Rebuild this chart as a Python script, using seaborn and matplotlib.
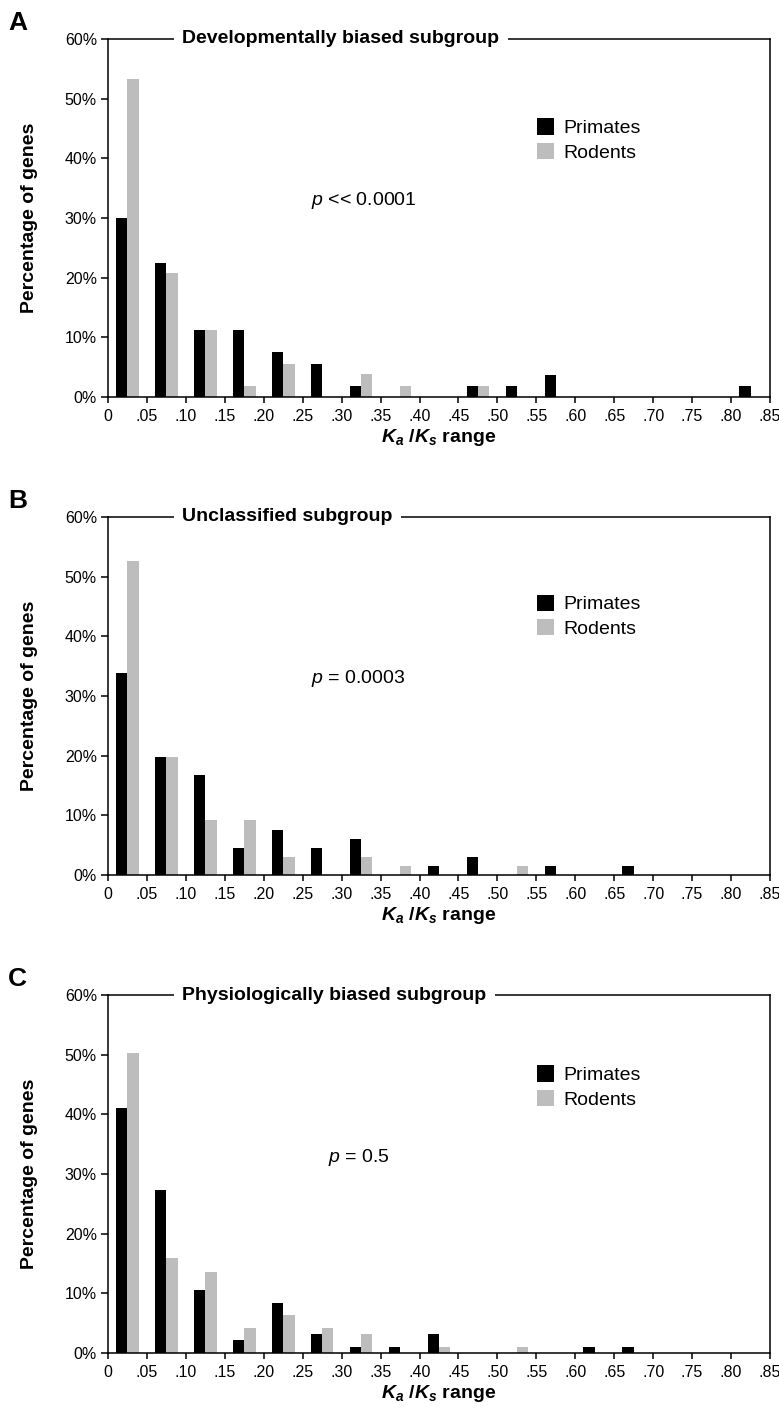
"""Ka/Ks distribution histograms for three gene subgroups (primates vs rodents)."""

import matplotlib
matplotlib.use("Agg")
import matplotlib.pyplot as plt
import matplotlib.ticker as mticker
from matplotlib.patches import Patch
import seaborn as sns
import pandas as pd

# Ka/Ks bins (0-.05, .05-.10, ... .80-.85)
bin_edges = ["0", ".05", ".10", ".15", ".20", ".25", ".30", ".35", ".40",
             ".45", ".50", ".55", ".60", ".65", ".70", ".75", ".80", ".85"]
bins = [f"b{i}" for i in range(17)]

panel_letters = ["A", "B", "C"]
subgroups = ["Developmentally biased subgroup",
             "Unclassified subgroup",
             "Physiologically biased subgroup"]
p_texts = ["<< 0.0001", "= 0.0003", "= 0.5"]

# percentage of genes per bin
dev_primates = [30.0, 22.4, 11.2, 11.2, 7.5, 5.6, 1.9, 0, 0, 1.9, 1.9, 3.7, 0, 0, 0, 0, 1.9]
dev_rodents = [53.3, 20.8, 11.2, 1.9, 5.6, 0, 3.8, 1.9, 0, 1.9, 0, 0, 0, 0, 0, 0, 0]
unc_primates = [33.8, 19.7, 16.8, 4.6, 7.6, 4.6, 6.1, 0, 1.5, 3.1, 0, 1.5, 0, 1.5, 0, 0, 0]
unc_rodents = [52.7, 19.7, 9.2, 9.2, 3.1, 0, 3.1, 1.5, 0, 0, 1.5, 0, 0, 0, 0, 0, 0]
phy_primates = [41.1, 27.3, 10.5, 2.1, 8.4, 3.2, 1.0, 1.0, 3.2, 0, 0, 0, 1.0, 1.0, 0, 0, 0]
phy_rodents = [50.3, 16.0, 13.6, 4.2, 6.3, 4.2, 3.2, 0, 1.0, 0, 1.0, 0, 0, 0, 0, 0, 0]

series = [(dev_primates, dev_rodents),
          (unc_primates, unc_rodents),
          (phy_primates, phy_rodents)]

colors = {"Primates": "#000000", "Rodents": "#bdbdbd"}

sns.set_style("ticks")
plt.rcParams.update({
    "font.family": ["Liberation Sans", "DejaVu Sans"],
    "mathtext.fontset": "custom",
    "mathtext.rm": "Liberation Sans",
    "mathtext.it": "Liberation Sans:italic",
    "mathtext.bf": "Liberation Sans:bold",
    "mathtext.bfit": "Liberation Sans:bold:italic",
    "text.color": "black",
    "axes.labelcolor": "black",
    "axes.edgecolor": "black",
    "axes.linewidth": 1.1,
    "xtick.major.width": 1.1,
    "ytick.major.width": 1.1,
    "xtick.major.size": 4.5,
    "ytick.major.size": 5,
    "xtick.color": "black",
    "ytick.color": "black",
})

fig = plt.figure(figsize=(7.79, 14.14), dpi=100)
ax_left, ax_w, ax_h = 108 / 779, 662 / 779, 358 / 1414
bottoms = [1 - 397 / 1414, 1 - 875 / 1414, 1 - 1353 / 1414]
p_ypos = [0.549, 0.550, 0.547]
p_xpos = [0.307, 0.307, 0.333]
leg_ypos = [0.80, 0.805, 0.825]

for k in range(3):
    prim, rod = series[k]
    df = pd.DataFrame({
        "bin": bins * 2,
        "pct": prim + rod,
        "group": ["Primates"] * 17 + ["Rodents"] * 17,
    })
    ax = fig.add_axes([ax_left, bottoms[k], ax_w, ax_h])
    sns.barplot(data=df, x="bin", y="pct", hue="group", order=bins,
                hue_order=["Primates", "Rodents"], palette=colors,
                width=0.58, saturation=1, linewidth=0, legend=False, ax=ax)

    ax.set_xlim(-0.5, 16.5)
    ax.set_ylim(0, 60)
    ax.set_xticks([i - 0.5 for i in range(18)])
    ax.set_xticklabels(bin_edges)
    ax.set_yticks(range(0, 61, 10))
    ax.yaxis.set_major_formatter(mticker.FuncFormatter(lambda v, _: f"{v:.0f}%"))
    ax.tick_params(axis="x", labelsize=11.5, pad=4)
    ax.tick_params(axis="y", labelsize=11.5, pad=3)
    for s in ax.spines.values():
        s.set_visible(True)
        s.set_linewidth(1.1)

    ax.set_ylabel("Percentage of genes", fontsize=14, fontweight="bold")
    ax.yaxis.set_label_coords(-0.106, 0.5)
    ax.set_xlabel(r"$\mathbfit{K_a}$ /$\mathbfit{K_s}$ range", fontsize=14,
                  fontweight="bold")
    ax.xaxis.set_label_coords(0.50, -0.083)

    # title breaking the top frame line
    ax.text(0.112, 1.0, subgroups[k], transform=ax.transAxes, ha="left",
            va="center", fontsize=14, fontweight="bold",
            bbox=dict(facecolor="white", edgecolor="none", pad=6), zorder=5)

    ax.text(p_xpos[k], p_ypos[k], r"$p$ " + p_texts[k], transform=ax.transAxes,
            ha="left", va="center", fontsize=14)

    handles = [Patch(facecolor=colors[g], edgecolor="none", label=g)
               for g in ["Primates", "Rodents"]]
    ax.legend(handles=handles, loc="upper left", bbox_to_anchor=(0.636, leg_ypos[k]),
              frameon=False, fontsize=14, handlelength=0.9, handleheight=0.9,
              handletextpad=0.45, labelspacing=0.3, borderaxespad=0)

    fig.text(8 / 779, bottoms[k] + ax_h + 16 / 1414, panel_letters[k],
             fontsize=19, fontweight="bold", ha="left", va="center")

fig.savefig("out.png", dpi=100, facecolor="white")
